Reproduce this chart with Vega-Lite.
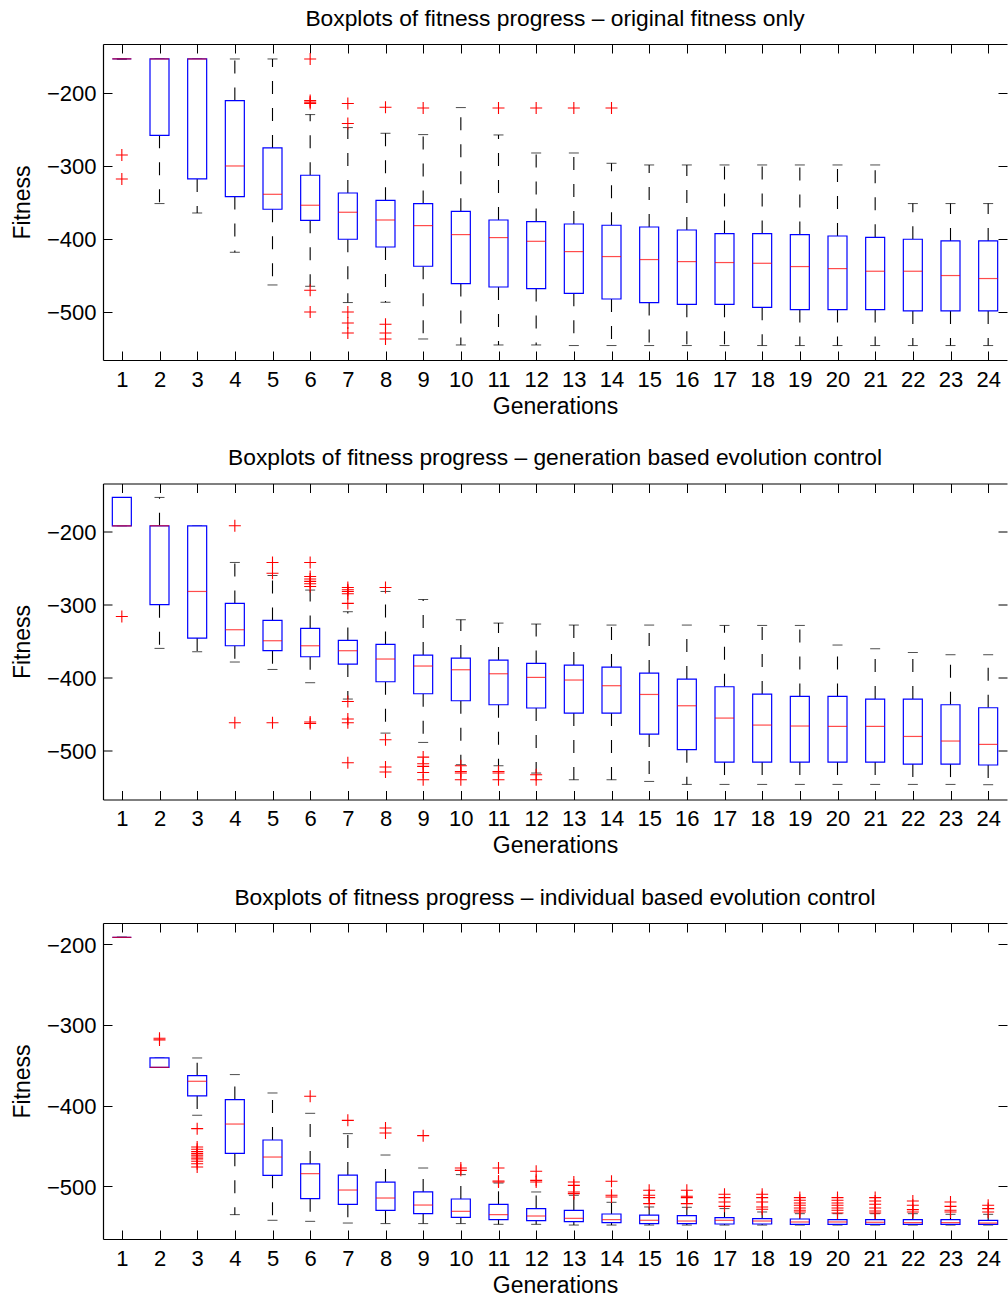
{
  "$schema": "https://vega.github.io/schema/vega-lite/v6.json",
  "background": "white",
  "padding": {"left": 11, "top": 7, "right": 0, "bottom": 0},
  "spacing": 28.5,
  "config": {
    "font": "Liberation Sans",
    "view": {"stroke": null},
    "scale": {"continuousPadding": 0},
    "axis": {
      "grid": false,
      "labelFont": "Liberation Sans",
      "titleFont": "Liberation Sans",
      "labelFontSize": 22,
      "titleFontSize": 23,
      "titleFontWeight": "normal",
      "labelColor": "black",
      "titleColor": "black",
      "domainColor": "black",
      "tickColor": "black",
      "domainWidth": 1.2,
      "tickWidth": 1,
      "tickSize": -9
    },
    "title": {
      "font": "Liberation Sans",
      "fontSize": 22.8,
      "fontWeight": "normal",
      "color": "black",
      "frame": "group",
      "anchor": "middle",
      "baseline": "bottom",
      "offset": 13
    }
  },
  "datasets": {
    "boxes": [
      {"panel":1,"g":1,"lo":-153.4,"q1":-153.4,"med":-153.4,"q3":-153.4,"hi":-153.4},
      {"panel":1,"g":2,"lo":-351.5,"q1":-258.0,"med":-153.4,"q3":-153.4,"hi":-153.4},
      {"panel":1,"g":3,"lo":-364.4,"q1":-317.8,"med":-153.4,"q3":-153.4,"hi":-153.4},
      {"panel":1,"g":4,"lo":-418.2,"q1":-341.9,"med":-300.0,"q3":-210.4,"hi":-153.4},
      {"panel":1,"g":5,"lo":-463.0,"q1":-359.3,"med":-338.8,"q3":-275.3,"hi":-153.4},
      {"panel":1,"g":6,"lo":-464.8,"q1":-374.4,"med":-353.8,"q3":-312.7,"hi":-229.6},
      {"panel":1,"g":7,"lo":-487.1,"q1":-400.4,"med":-363.4,"q3":-337.0,"hi":-247.4},
      {"panel":1,"g":8,"lo":-486.7,"q1":-411.0,"med":-374.0,"q3":-347.0,"hi":-255.2},
      {"panel":1,"g":9,"lo":-537.0,"q1":-437.4,"med":-381.7,"q3":-351.5,"hi":-257.0},
      {"panel":1,"g":10,"lo":-545.2,"q1":-461.1,"med":-394.0,"q3":-362.1,"hi":-220.0},
      {"panel":1,"g":11,"lo":-545.2,"q1":-465.8,"med":-398.1,"q3":-374.0,"hi":-257.5},
      {"panel":1,"g":12,"lo":-545.2,"q1":-468.0,"med":-403.2,"q3":-376.2,"hi":-282.2},
      {"panel":1,"g":13,"lo":-546.0,"q1":-474.4,"med":-417.3,"q3":-379.5,"hi":-282.2},
      {"panel":1,"g":14,"lo":-546.0,"q1":-482.2,"med":-424.1,"q3":-381.2,"hi":-296.3},
      {"panel":1,"g":15,"lo":-546.0,"q1":-487.1,"med":-428.2,"q3":-383.6,"hi":-298.6},
      {"panel":1,"g":16,"lo":-546.0,"q1":-489.5,"med":-431.0,"q3":-387.7,"hi":-298.6},
      {"panel":1,"g":17,"lo":-546.0,"q1":-489.5,"med":-432.3,"q3":-392.6,"hi":-298.6},
      {"panel":1,"g":18,"lo":-546.0,"q1":-493.6,"med":-433.3,"q3":-392.6,"hi":-298.6},
      {"panel":1,"g":19,"lo":-546.0,"q1":-496.7,"med":-437.8,"q3":-394.0,"hi":-298.6},
      {"panel":1,"g":20,"lo":-546.0,"q1":-496.7,"med":-440.6,"q3":-395.9,"hi":-298.6},
      {"panel":1,"g":21,"lo":-546.0,"q1":-496.7,"med":-444.2,"q3":-397.7,"hi":-298.6},
      {"panel":1,"g":22,"lo":-546.0,"q1":-498.6,"med":-444.2,"q3":-400.4,"hi":-351.5},
      {"panel":1,"g":23,"lo":-546.0,"q1":-498.6,"med":-450.1,"q3":-402.7,"hi":-351.5},
      {"panel":1,"g":24,"lo":-546.0,"q1":-498.6,"med":-454.2,"q3":-402.7,"hi":-351.5},

      {"panel":2,"g":1,"lo":-191.8,"q1":-191.8,"med":-191.8,"q3":-152.9,"hi":-152.9},
      {"panel":2,"g":2,"lo":-360.0,"q1":-300.1,"med":-191.8,"q3":-191.8,"hi":-152.9},
      {"panel":2,"g":3,"lo":-364.6,"q1":-345.8,"med":-281.9,"q3":-191.8,"hi":-191.8},
      {"panel":2,"g":4,"lo":-378.7,"q1":-356.4,"med":-334.4,"q3":-298.3,"hi":-242.1},
      {"panel":2,"g":5,"lo":-388.9,"q1":-363.2,"med":-349.5,"q3":-321.6,"hi":-260.0},
      {"panel":2,"g":6,"lo":-407.1,"q1":-371.5,"med":-356.4,"q3":-332.6,"hi":-280.0},
      {"panel":2,"g":7,"lo":-429.5,"q1":-381.5,"med":-363.2,"q3":-349.1,"hi":-309.7},
      {"panel":2,"g":8,"lo":-476.2,"q1":-405.8,"med":-374.6,"q3":-354.6,"hi":-281.9},
      {"panel":2,"g":9,"lo":-489.0,"q1":-422.2,"med":-384.2,"q3":-369.2,"hi":-292.9},
      {"panel":2,"g":10,"lo":-519.6,"q1":-431.8,"med":-389.3,"q3":-373.3,"hi":-320.7},
      {"panel":2,"g":11,"lo":-521.0,"q1":-437.3,"med":-394.8,"q3":-376.0,"hi":-325.3},
      {"panel":2,"g":12,"lo":-531.0,"q1":-441.8,"med":-399.8,"q3":-380.6,"hi":-326.6},
      {"panel":2,"g":13,"lo":-540.2,"q1":-448.7,"med":-403.4,"q3":-382.9,"hi":-328.0},
      {"panel":2,"g":14,"lo":-540.2,"q1":-448.7,"med":-411.2,"q3":-385.6,"hi":-328.0},
      {"panel":2,"g":15,"lo":-542.5,"q1":-477.5,"med":-423.2,"q3":-393.8,"hi":-328.0},
      {"panel":2,"g":16,"lo":-546.6,"q1":-499.0,"med":-438.7,"q3":-402.1,"hi":-328.0},
      {"panel":2,"g":17,"lo":-546.6,"q1":-515.9,"med":-455.6,"q3":-412.6,"hi":-328.5},
      {"panel":2,"g":18,"lo":-546.6,"q1":-515.9,"med":-465.2,"q3":-422.7,"hi":-328.5},
      {"panel":2,"g":19,"lo":-546.6,"q1":-515.9,"med":-466.5,"q3":-425.9,"hi":-328.5},
      {"panel":2,"g":20,"lo":-546.6,"q1":-515.9,"med":-467.0,"q3":-425.9,"hi":-355.4},
      {"panel":2,"g":21,"lo":-546.6,"q1":-515.9,"med":-467.0,"q3":-429.5,"hi":-360.5},
      {"panel":2,"g":22,"lo":-546.6,"q1":-518.7,"med":-480.8,"q3":-429.5,"hi":-365.6},
      {"panel":2,"g":23,"lo":-546.6,"q1":-518.7,"med":-487.1,"q3":-437.3,"hi":-368.7},
      {"panel":2,"g":24,"lo":-547.0,"q1":-520.0,"med":-491.7,"q3":-441.4,"hi":-368.7},

      {"panel":3,"g":1,"lo":-191.3,"q1":-191.3,"med":-191.3,"q3":-191.3,"hi":-191.3},
      {"panel":3,"g":2,"lo":-352.5,"q1":-352.5,"med":-352.5,"q3":-340.9,"hi":-340.9},
      {"panel":3,"g":3,"lo":-411.9,"q1":-388.0,"med":-369.8,"q3":-362.8,"hi":-340.9},
      {"panel":3,"g":4,"lo":-535.1,"q1":-459.1,"med":-422.8,"q3":-392.5,"hi":-361.5},
      {"panel":3,"g":5,"lo":-542.1,"q1":-486.4,"med":-463.7,"q3":-442.6,"hi":-384.3},
      {"panel":3,"g":6,"lo":-543.4,"q1":-515.3,"med":-484.3,"q3":-472.3,"hi":-409.5},
      {"panel":3,"g":7,"lo":-545.5,"q1":-522.3,"med":-504.6,"q3":-486.0,"hi":-434.7},
      {"panel":3,"g":8,"lo":-546.2,"q1":-529.7,"med":-514.5,"q3":-494.7,"hi":-461.2},
      {"panel":3,"g":9,"lo":-546.2,"q1":-533.9,"med":-523.2,"q3":-507.0,"hi":-477.3},
      {"panel":3,"g":10,"lo":-546.2,"q1":-538.4,"med":-531.0,"q3":-515.7,"hi":-485.5},
      {"panel":3,"g":11,"lo":-547.1,"q1":-541.3,"med":-535.1,"q3":-522.3,"hi":-495.9},
      {"panel":3,"g":12,"lo":-547.1,"q1":-542.5,"med":-536.8,"q3":-527.6,"hi":-507.0},
      {"panel":3,"g":13,"lo":-548.0,"q1":-543.7,"med":-539.7,"q3":-529.7,"hi":-511.1},
      {"panel":3,"g":14,"lo":-548.0,"q1":-545.0,"med":-541.3,"q3":-534.3,"hi":-519.8},
      {"panel":3,"g":15,"lo":-548.0,"q1":-546.2,"med":-542.1,"q3":-535.6,"hi":-525.6},
      {"panel":3,"g":16,"lo":-548.0,"q1":-546.2,"med":-543.0,"q3":-536.3,"hi":-526.0},
      {"panel":3,"g":17,"lo":-548.0,"q1":-546.7,"med":-542.1,"q3":-538.8,"hi":-527.6},
      {"panel":3,"g":18,"lo":-548.0,"q1":-546.7,"med":-543.0,"q3":-540.0,"hi":-531.8},
      {"panel":3,"g":19,"lo":-548.0,"q1":-547.1,"med":-544.2,"q3":-540.5,"hi":-533.9},
      {"panel":3,"g":20,"lo":-548.0,"q1":-547.1,"med":-544.2,"q3":-541.3,"hi":-533.9},
      {"panel":3,"g":21,"lo":-548.0,"q1":-547.1,"med":-544.6,"q3":-541.3,"hi":-533.9},
      {"panel":3,"g":22,"lo":-548.0,"q1":-547.1,"med":-545.0,"q3":-541.3,"hi":-533.9},
      {"panel":3,"g":23,"lo":-548.0,"q1":-547.1,"med":-545.0,"q3":-541.3,"hi":-534.7},
      {"panel":3,"g":24,"lo":-548.0,"q1":-547.1,"med":-545.5,"q3":-542.1,"hi":-534.7}
    ],
    "outliers": [
      {"panel":1,"g":1,"v":-284.9},{"panel":1,"g":1,"v":-317.8},
      {"panel":1,"g":6,"v":-153.4},{"panel":1,"g":6,"v":-210.4},{"panel":1,"g":6,"v":-212.5},{"panel":1,"g":6,"v":-214.5},{"panel":1,"g":6,"v":-470.3},{"panel":1,"g":6,"v":-500.0},
      {"panel":1,"g":7,"v":-214.5},{"panel":1,"g":7,"v":-241.9},{"panel":1,"g":7,"v":-500.0},{"panel":1,"g":7,"v":-515.1},{"panel":1,"g":7,"v":-528.8},
      {"panel":1,"g":8,"v":-219.6},{"panel":1,"g":8,"v":-516.8},{"panel":1,"g":8,"v":-528.8},{"panel":1,"g":8,"v":-537.0},
      {"panel":1,"g":9,"v":-220.5},{"panel":1,"g":11,"v":-220.5},{"panel":1,"g":12,"v":-220.5},{"panel":1,"g":13,"v":-220.5},{"panel":1,"g":14,"v":-220.5},

      {"panel":2,"g":1,"v":-316.2},
      {"panel":2,"g":4,"v":-191.8},{"panel":2,"g":4,"v":-462.0},
      {"panel":2,"g":5,"v":-242.1},{"panel":2,"g":5,"v":-257.0},{"panel":2,"g":5,"v":-462.0},
      {"panel":2,"g":6,"v":-242.1},{"panel":2,"g":6,"v":-261.3},{"panel":2,"g":6,"v":-264.9},{"panel":2,"g":6,"v":-268.1},{"panel":2,"g":6,"v":-271.3},{"panel":2,"g":6,"v":-275.0},{"panel":2,"g":6,"v":-461.0},{"panel":2,"g":6,"v":-463.0},
      {"panel":2,"g":7,"v":-276.4},{"panel":2,"g":7,"v":-279.6},{"panel":2,"g":7,"v":-281.9},{"panel":2,"g":7,"v":-285.0},{"panel":2,"g":7,"v":-298.3},{"panel":2,"g":7,"v":-432.8},{"panel":2,"g":7,"v":-456.9},{"panel":2,"g":7,"v":-462.0},{"panel":2,"g":7,"v":-516.9},
      {"panel":2,"g":8,"v":-276.4},{"panel":2,"g":8,"v":-485.3},{"panel":2,"g":8,"v":-522.8},{"panel":2,"g":8,"v":-529.6},
      {"panel":2,"g":9,"v":-509.1},{"panel":2,"g":9,"v":-518.2},{"panel":2,"g":9,"v":-521.8},{"panel":2,"g":9,"v":-530.2},{"panel":2,"g":9,"v":-540.2},
      {"panel":2,"g":10,"v":-521.0},{"panel":2,"g":10,"v":-528.8},{"panel":2,"g":10,"v":-531.0},{"panel":2,"g":10,"v":-540.2},
      {"panel":2,"g":11,"v":-528.8},{"panel":2,"g":11,"v":-531.0},{"panel":2,"g":11,"v":-540.2},
      {"panel":2,"g":12,"v":-533.3},{"panel":2,"g":12,"v":-540.2},

      {"panel":3,"g":2,"v":-316.5},{"panel":3,"g":2,"v":-318.5},
      {"panel":3,"g":3,"v":-428.5},{"panel":3,"g":3,"v":-451.3},{"panel":3,"g":3,"v":-454.0},{"panel":3,"g":3,"v":-457.0},{"panel":3,"g":3,"v":-459.5},{"panel":3,"g":3,"v":-461.5},{"panel":3,"g":3,"v":-463.7},{"panel":3,"g":3,"v":-466.0},{"panel":3,"g":3,"v":-469.0},{"panel":3,"g":3,"v":-472.0},{"panel":3,"g":3,"v":-476.1},
      {"panel":3,"g":6,"v":-388.4},
      {"panel":3,"g":7,"v":-418.2},
      {"panel":3,"g":8,"v":-427.7},{"panel":3,"g":8,"v":-433.9},
      {"panel":3,"g":9,"v":-437.2},
      {"panel":3,"g":10,"v":-477.3},{"panel":3,"g":10,"v":-480.2},
      {"panel":3,"g":11,"v":-477.3},{"panel":3,"g":11,"v":-493.4},{"panel":3,"g":11,"v":-494.6},
      {"panel":3,"g":12,"v":-481.4},{"panel":3,"g":12,"v":-492.6},{"panel":3,"g":12,"v":-494.6},
      {"panel":3,"g":13,"v":-494.6},{"panel":3,"g":13,"v":-498.8},{"panel":3,"g":13,"v":-507.0},{"panel":3,"g":13,"v":-509.1},
      {"panel":3,"g":14,"v":-493.8},{"panel":3,"g":14,"v":-511.1},{"panel":3,"g":14,"v":-513.3},
      {"panel":3,"g":15,"v":-504.9},{"panel":3,"g":15,"v":-511.1},{"panel":3,"g":15,"v":-514.0},{"panel":3,"g":15,"v":-521.4},
      {"panel":3,"g":16,"v":-504.9},{"panel":3,"g":16,"v":-512.4},{"panel":3,"g":16,"v":-514.0},{"panel":3,"g":16,"v":-521.4},
      {"panel":3,"g":17,"v":-509.9},{"panel":3,"g":17,"v":-514.0},{"panel":3,"g":17,"v":-519.4},{"panel":3,"g":17,"v":-524.8},
      {"panel":3,"g":18,"v":-509.9},{"panel":3,"g":18,"v":-514.0},{"panel":3,"g":18,"v":-519.4},{"panel":3,"g":18,"v":-525.6},{"panel":3,"g":18,"v":-528.5},
      {"panel":3,"g":19,"v":-514.0},{"panel":3,"g":19,"v":-517.3},{"panel":3,"g":19,"v":-520.7},{"panel":3,"g":19,"v":-523.5},{"panel":3,"g":19,"v":-526.9},{"panel":3,"g":19,"v":-529.7},{"panel":3,"g":19,"v":-531.8},
      {"panel":3,"g":20,"v":-514.0},{"panel":3,"g":20,"v":-517.3},{"panel":3,"g":20,"v":-520.7},{"panel":3,"g":20,"v":-523.5},{"panel":3,"g":20,"v":-526.9},{"panel":3,"g":20,"v":-529.7},{"panel":3,"g":20,"v":-533.1},
      {"panel":3,"g":21,"v":-514.0},{"panel":3,"g":21,"v":-518.2},{"panel":3,"g":21,"v":-522.3},{"panel":3,"g":21,"v":-526.9},{"panel":3,"g":21,"v":-530.6},{"panel":3,"g":21,"v":-533.1},
      {"panel":3,"g":22,"v":-518.2},{"panel":3,"g":22,"v":-523.5},{"panel":3,"g":22,"v":-528.9},{"panel":3,"g":22,"v":-531.8},
      {"panel":3,"g":23,"v":-519.4},{"panel":3,"g":23,"v":-524.8},{"panel":3,"g":23,"v":-529.7},{"panel":3,"g":23,"v":-531.8},
      {"panel":3,"g":24,"v":-523.5},{"panel":3,"g":24,"v":-527.6},{"panel":3,"g":24,"v":-531.8}
    ]
  },
  "vconcat": [
    {
      "title": "Boxplots of fitness progress – original fitness only",
      "width": 904,
      "height": 316,
      "data": {"name": "boxes"},
      "transform": [{"filter": "datum.panel == 1"}],
      "resolve": {"axis": {"x": "independent", "y": "independent"}},
      "encoding": {"x": {"field": "g", "type": "quantitative", "scale": {"domain": [0.5, 24.5], "nice": false, "zero": false, "padding": 0}, "axis": null}},
      "layer": [
        {"mark": {"type": "rule", "color": "black", "strokeWidth": 1.1, "strokeDash": [13, 14]},
         "encoding": {
           "x": {"field": "g", "type": "quantitative", "scale": {"domain": [0.5, 24.5], "nice": false, "zero": false, "padding": 0},
                 "axis": {"orient": "bottom", "values": [1,2,3,4,5,6,7,8,9,10,11,12,13,14,15,16,17,18,19,20,21,22,23,24], "format": "d", "labelPadding": 18, "labelFlush": false, "labelOverlap": false, "title": "Generations", "titlePadding": 5}},
           "y": {"field": "q3", "type": "quantitative", "scale": {"domain": [-565.8, -132.9], "nice": false, "zero": false},
                 "axis": {"orient": "left", "values": [-500, -400, -300, -200], "labelPadding": 16, "labelOffset": 1, "title": "Fitness", "titlePadding": 12}},
           "y2": {"field": "hi"}}},
        {"mark": {"type": "rule", "color": "black", "strokeWidth": 1.1, "strokeDash": [13, 14]},
         "encoding": {
           "x": {"field": "g", "type": "quantitative", "scale": {"domain": [0.5, 24.5], "nice": false, "zero": false, "padding": 0},
                 "axis": {"orient": "top", "values": [1,2,3,4,5,6,7,8,9,10,11,12,13,14,15,16,17,18,19,20,21,22,23,24], "labels": false, "title": null}},
           "y": {"field": "q1", "type": "quantitative", "scale": {"domain": [-565.8, -132.9], "nice": false, "zero": false},
                 "axis": {"orient": "right", "values": [-500, -400, -300, -200], "labels": false, "domain": false, "title": null}},
           "y2": {"field": "lo"}}},
        {"mark": {"type": "tick", "orient": "horizontal", "color": "black", "size": 10, "thickness": 1},
         "encoding": {"y": {"field": "hi", "type": "quantitative", "scale": {"domain": [-565.8, -132.9], "nice": false, "zero": false}, "axis": null}}},
        {"mark": {"type": "tick", "orient": "horizontal", "color": "black", "size": 10, "thickness": 1},
         "encoding": {"y": {"field": "lo", "type": "quantitative", "scale": {"domain": [-565.8, -132.9], "nice": false, "zero": false}, "axis": null}}},
        {"mark": {"type": "bar", "orient": "vertical", "width": 19, "fill": "white", "stroke": "#0000ff", "strokeWidth": 1.2},
         "encoding": {"y": {"field": "q1", "type": "quantitative", "scale": {"domain": [-565.8, -132.9], "nice": false, "zero": false}, "axis": null}, "y2": {"field": "q3"}}},
        {"mark": {"type": "tick", "orient": "horizontal", "color": "#ff0000", "size": 19, "thickness": 1.2},
         "encoding": {"y": {"field": "med", "type": "quantitative", "scale": {"domain": [-565.8, -132.9], "nice": false, "zero": false}, "axis": null}}},
        {"data": {"name": "outliers"},
         "transform": [{"filter": "datum.panel == 1"}],
         "mark": {"type": "point", "shape": "M-1,0L1,0M0,-1L0,1", "size": 144, "filled": false, "stroke": "#ff0000", "strokeWidth": 1.1, "opacity": 1},
         "encoding": {"y": {"field": "v", "type": "quantitative", "scale": {"domain": [-565.8, -132.9], "nice": false, "zero": false}, "axis": null}}}
      ]
    },
    {
      "title": "Boxplots of fitness progress – generation based evolution control",
      "width": 904,
      "height": 316,
      "data": {"name": "boxes"},
      "transform": [{"filter": "datum.panel == 2"}],
      "resolve": {"axis": {"x": "independent", "y": "independent"}},
      "encoding": {"x": {"field": "g", "type": "quantitative", "scale": {"domain": [0.5, 24.5], "nice": false, "zero": false, "padding": 0}, "axis": null}},
      "layer": [
        {"mark": {"type": "rule", "color": "black", "strokeWidth": 1.1, "strokeDash": [13, 14]},
         "encoding": {
           "x": {"field": "g", "type": "quantitative", "scale": {"domain": [0.5, 24.5], "nice": false, "zero": false, "padding": 0},
                 "axis": {"orient": "bottom", "values": [1,2,3,4,5,6,7,8,9,10,11,12,13,14,15,16,17,18,19,20,21,22,23,24], "format": "d", "labelPadding": 18, "labelFlush": false, "labelOverlap": false, "title": "Generations", "titlePadding": 5}},
           "y": {"field": "q3", "type": "quantitative", "scale": {"domain": [-567.3, -133.8], "nice": false, "zero": false},
                 "axis": {"orient": "left", "values": [-500, -400, -300, -200], "labelPadding": 16, "labelOffset": 1, "title": "Fitness", "titlePadding": 12}},
           "y2": {"field": "hi"}}},
        {"mark": {"type": "rule", "color": "black", "strokeWidth": 1.1, "strokeDash": [13, 14]},
         "encoding": {
           "x": {"field": "g", "type": "quantitative", "scale": {"domain": [0.5, 24.5], "nice": false, "zero": false, "padding": 0},
                 "axis": {"orient": "top", "values": [1,2,3,4,5,6,7,8,9,10,11,12,13,14,15,16,17,18,19,20,21,22,23,24], "labels": false, "title": null}},
           "y": {"field": "q1", "type": "quantitative", "scale": {"domain": [-567.3, -133.8], "nice": false, "zero": false},
                 "axis": {"orient": "right", "values": [-500, -400, -300, -200], "labels": false, "domain": false, "title": null}},
           "y2": {"field": "lo"}}},
        {"mark": {"type": "tick", "orient": "horizontal", "color": "black", "size": 10, "thickness": 1},
         "encoding": {"y": {"field": "hi", "type": "quantitative", "scale": {"domain": [-567.3, -133.8], "nice": false, "zero": false}, "axis": null}}},
        {"mark": {"type": "tick", "orient": "horizontal", "color": "black", "size": 10, "thickness": 1},
         "encoding": {"y": {"field": "lo", "type": "quantitative", "scale": {"domain": [-567.3, -133.8], "nice": false, "zero": false}, "axis": null}}},
        {"mark": {"type": "bar", "orient": "vertical", "width": 19, "fill": "white", "stroke": "#0000ff", "strokeWidth": 1.2},
         "encoding": {"y": {"field": "q1", "type": "quantitative", "scale": {"domain": [-567.3, -133.8], "nice": false, "zero": false}, "axis": null}, "y2": {"field": "q3"}}},
        {"mark": {"type": "tick", "orient": "horizontal", "color": "#ff0000", "size": 19, "thickness": 1.2},
         "encoding": {"y": {"field": "med", "type": "quantitative", "scale": {"domain": [-567.3, -133.8], "nice": false, "zero": false}, "axis": null}}},
        {"data": {"name": "outliers"},
         "transform": [{"filter": "datum.panel == 2"}],
         "mark": {"type": "point", "shape": "M-1,0L1,0M0,-1L0,1", "size": 144, "filled": false, "stroke": "#ff0000", "strokeWidth": 1.1, "opacity": 1},
         "encoding": {"y": {"field": "v", "type": "quantitative", "scale": {"domain": [-567.3, -133.8], "nice": false, "zero": false}, "axis": null}}}
      ]
    },
    {
      "title": "Boxplots of fitness progress – individual based evolution control",
      "width": 904,
      "height": 316,
      "data": {"name": "boxes"},
      "transform": [{"filter": "datum.panel == 3"}],
      "resolve": {"axis": {"x": "independent", "y": "independent"}},
      "encoding": {"x": {"field": "g", "type": "quantitative", "scale": {"domain": [0.5, 24.5], "nice": false, "zero": false, "padding": 0}, "axis": null}},
      "layer": [
        {"mark": {"type": "rule", "color": "black", "strokeWidth": 1.1, "strokeDash": [13, 14]},
         "encoding": {
           "x": {"field": "g", "type": "quantitative", "scale": {"domain": [0.5, 24.5], "nice": false, "zero": false, "padding": 0},
                 "axis": {"orient": "bottom", "values": [1,2,3,4,5,6,7,8,9,10,11,12,13,14,15,16,17,18,19,20,21,22,23,24], "format": "d", "labelPadding": 18, "labelFlush": false, "labelOverlap": false, "title": "Generations", "titlePadding": 5}},
           "y": {"field": "q3", "type": "quantitative", "scale": {"domain": [-565.3, -173.6], "nice": false, "zero": false},
                 "axis": {"orient": "left", "values": [-500, -400, -300, -200], "labelPadding": 16, "labelOffset": 1, "title": "Fitness", "titlePadding": 12}},
           "y2": {"field": "hi"}}},
        {"mark": {"type": "rule", "color": "black", "strokeWidth": 1.1, "strokeDash": [13, 14]},
         "encoding": {
           "x": {"field": "g", "type": "quantitative", "scale": {"domain": [0.5, 24.5], "nice": false, "zero": false, "padding": 0},
                 "axis": {"orient": "top", "values": [1,2,3,4,5,6,7,8,9,10,11,12,13,14,15,16,17,18,19,20,21,22,23,24], "labels": false, "title": null}},
           "y": {"field": "q1", "type": "quantitative", "scale": {"domain": [-565.3, -173.6], "nice": false, "zero": false},
                 "axis": {"orient": "right", "values": [-500, -400, -300, -200], "labels": false, "domain": false, "title": null}},
           "y2": {"field": "lo"}}},
        {"mark": {"type": "tick", "orient": "horizontal", "color": "black", "size": 10, "thickness": 1},
         "encoding": {"y": {"field": "hi", "type": "quantitative", "scale": {"domain": [-565.3, -173.6], "nice": false, "zero": false}, "axis": null}}},
        {"mark": {"type": "tick", "orient": "horizontal", "color": "black", "size": 10, "thickness": 1},
         "encoding": {"y": {"field": "lo", "type": "quantitative", "scale": {"domain": [-565.3, -173.6], "nice": false, "zero": false}, "axis": null}}},
        {"mark": {"type": "bar", "orient": "vertical", "width": 19, "fill": "white", "stroke": "#0000ff", "strokeWidth": 1.2},
         "encoding": {"y": {"field": "q1", "type": "quantitative", "scale": {"domain": [-565.3, -173.6], "nice": false, "zero": false}, "axis": null}, "y2": {"field": "q3"}}},
        {"mark": {"type": "tick", "orient": "horizontal", "color": "#ff0000", "size": 19, "thickness": 1.2},
         "encoding": {"y": {"field": "med", "type": "quantitative", "scale": {"domain": [-565.3, -173.6], "nice": false, "zero": false}, "axis": null}}},
        {"data": {"name": "outliers"},
         "transform": [{"filter": "datum.panel == 3"}],
         "mark": {"type": "point", "shape": "M-1,0L1,0M0,-1L0,1", "size": 144, "filled": false, "stroke": "#ff0000", "strokeWidth": 1.1, "opacity": 1},
         "encoding": {"y": {"field": "v", "type": "quantitative", "scale": {"domain": [-565.3, -173.6], "nice": false, "zero": false}, "axis": null}}}
      ]
    }
  ]
}
